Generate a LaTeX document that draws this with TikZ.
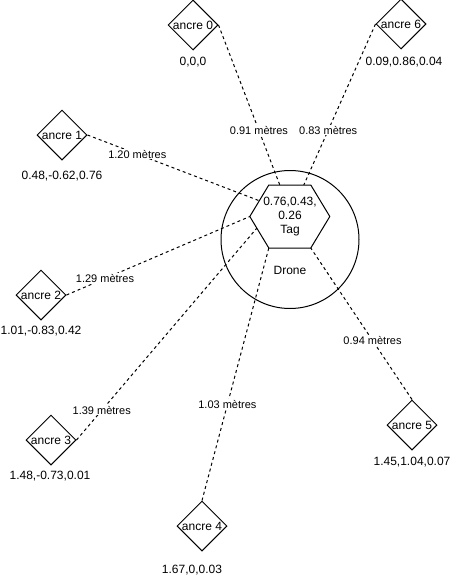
\documentclass[tikz,border=0pt]{standalone}
\usepackage{fontspec}
\setmainfont{Liberation Sans}
\usepackage{tikz}
\usetikzlibrary{shapes.geometric, calc, positioning}
\definecolor{xLine}{RGB}{0,0,0}

\tikzset{
    ancre/.style={draw=xLine, line width=1pt, diamond, minimum width=50pt, minimum height=50pt, inner sep=-8pt, font=\fontsize{12}{14}\selectfont},
    coord/.style={font=\fontsize{12}{14}\selectfont},
    dist/.style={fill=white, inner sep=1pt, font=\fontsize{11}{13}\selectfont},
    lien/.style={draw=xLine, line width=1pt, dash pattern=on 3pt off 3pt}
}

\begin{document}
\begin{tikzpicture}[x=1pt, y=-1pt]
    \useasboundingbox (0,0) rectangle (450,581);

    % drone and tag
    \node[draw=xLine, line width=1pt, circle, minimum size=138pt, inner sep=0pt] (drone) at (290,239.5) {};
    \node[font=\fontsize{12}{14}\selectfont] (dronetxt) at (290,270) {Drone};
    \node[minimum width=80pt, minimum height=63pt, inner sep=0pt, align=center, font=\fontsize{12}{14}\selectfont] (tag) at (290,216.5) {0.76,0.43,\\0.26\\Tag};
    \draw[line width=1pt] (tag.west) -- ++(19,-31.5) coordinate (tl) -- ++(42,0) coordinate (tr)
        -- ++(19,31.5) -- ++(-19,31.5) coordinate (br) -- ++(-42,0) coordinate (bl) -- cycle;

    % end points on the tag
    \coordinate (h0) at ($(tl)+(11,0)$);
    \coordinate (h6) at ($(tr)+(-7,0)$);
    \coordinate (h1) at ($(tag.west)!0.5!(tl)$);
    \coordinate (h2) at (tag.west);
    \coordinate (h3) at ($(tag.west)!0.37!(bl)$);
    \coordinate (h4) at (bl);
    \coordinate (h5) at (br);

    % anchors with their positions
    \foreach \n/\x/\y/\c/\cx/\cy in {0/193/25/{0,0,0}/193/62,
                                     6/401/24/{0.09,0.86,0.04}/404/62,
                                     1/62/135/{0.48,-0.62,0.76}/62/176,
                                     2/41/295/{1.01,-0.83,0.42}/41/331,
                                     3/51/440/{1.48,-0.73,0.01}/50/476,
                                     4/202/526/{1.67,0,0.03}/192/570,
                                     5/412/425/{1.45,1.04,0.07}/412/462} {
        \node[ancre] (a\n) at (\x,\y) {ancre \n};
        \node[coord] (c\n) at (\cx,\cy) {\c};
    }

    % distances
    \foreach \a/\s/\h/\t/\d in {a0/east/h0/0.66/0.91, a6/west/h6/0.66/0.83,
                                a1/east/h1/0.29/1.20, a2/east/h2/0.21/1.29,
                                a3/east/h3/0.14/1.39, a4/north/h4/0.38/1.03,
                                a5/north/h5/0.39/0.94} {
        \draw[lien] (\a.\s) -- (\h) node[dist, pos=\t] (d\a) {\d~mètres};
    }

\end{tikzpicture}
\end{document}
